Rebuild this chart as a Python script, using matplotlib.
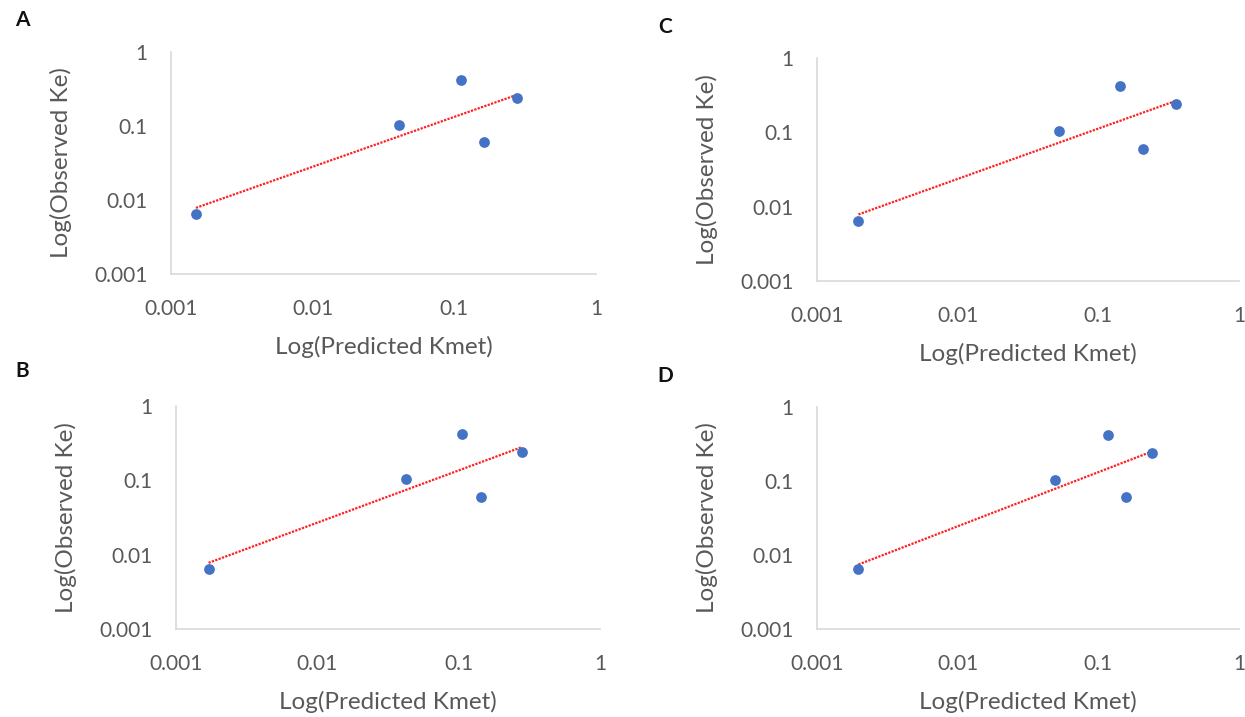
import numpy as np
import matplotlib.pyplot as plt

W, H = 1245, 717

# observed Ke (same for all four panels)
observed_ke = [0.0064, 0.104, 0.42, 0.060, 0.238]

# predicted Kmet per panel
pred_a = [0.0015, 0.041, 0.112, 0.162, 0.279]
pred_b = [0.0017, 0.0426, 0.105, 0.144, 0.279]
pred_c = [0.00197, 0.0524, 0.143, 0.208, 0.356]
pred_d = [0.00197, 0.049, 0.118, 0.158, 0.241]

tick_vals = [0.001, 0.01, 0.1, 1]
tick_labels = ["0.001", "0.01", "0.1", "1"]

plt.rcParams['font.family'] = ['Lato', 'DejaVu Sans']
GREY = '#595959'

fig = plt.figure(figsize=(W / 100, H / 100), dpi=100)


def px_axes(left, right, top, bottom):
    return fig.add_axes([left / W, 1 - bottom / H, (right - left) / W, (bottom - top) / H])


def panel(ax, xs, ys):
    ax.set_xscale('log')
    ax.set_yscale('log')
    ax.set_xlim(0.001, 1)
    ax.set_ylim(0.001, 1)
    ax.scatter(xs, ys, s=45, color='#4472C4', zorder=3, clip_on=False)
    # power trendline (straight in log-log)
    lx, ly = np.log10(xs), np.log10(ys)
    k, b = np.polyfit(lx, ly, 1)
    fx = np.array([lx.min(), lx.max()])
    ax.plot(10 ** fx, 10 ** (k * fx + b), color='#FF2020', lw=1.6,
            linestyle=(0, (1, 0.6)), zorder=2)
    ax.set_xticks(tick_vals)
    ax.set_xticklabels(tick_labels)
    ax.set_yticks(tick_vals)
    ax.set_yticklabels(tick_labels)
    ax.minorticks_off()
    ax.tick_params(length=0, labelsize=15, colors=GREY)
    ax.tick_params(axis='x', pad=18)
    ax.tick_params(axis='y', pad=17)
    for s in ['top', 'right']:
        ax.spines[s].set_visible(False)
    for s in ['left', 'bottom']:
        ax.spines[s].set_color('#d9d9d9')
        ax.spines[s].set_linewidth(1.2)
    ax.set_ylabel('Log(Observed Ke)', fontsize=17.5, color=GREY, labelpad=16)
    ax.set_xlabel('Log(Predicted Kmet)', fontsize=17.5, color=GREY, labelpad=12)


axA = px_axes(171, 596, 52, 274)
panel(axA, pred_a, observed_ke)

axC = px_axes(817, 1239, 58, 281)
panel(axC, pred_c, observed_ke)

axB = px_axes(176, 600, 406, 629)
panel(axB, pred_b, observed_ke)

axD = px_axes(817, 1239, 407, 629)
panel(axD, pred_d, observed_ke)

for letter, x, y in [('A', 22, 20), ('C', 665, 27), ('B', 22, 371), ('D', 665, 376)]:
    fig.text(x / W, 1 - y / H, letter, fontsize=15, fontweight='bold',
             ha='center', va='center', color='#111111')

fig.savefig('out.png', dpi=100)
